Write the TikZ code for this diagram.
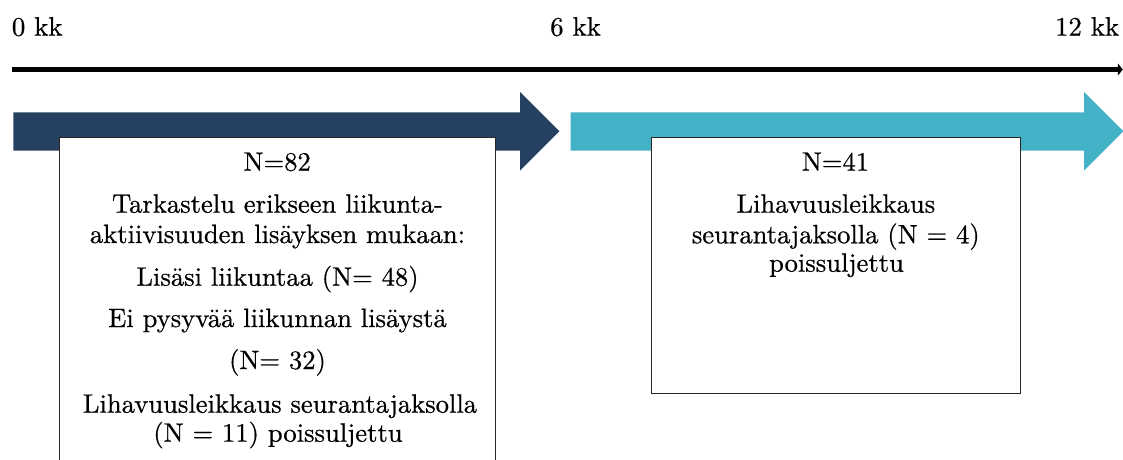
\documentclass[tikz,border=0pt]{standalone}
\usepackage{fontspec}
\setmainfont{lmroman10-regular.otf}[FakeBold=0.6]
\usetikzlibrary{arrows.meta}
\definecolor{navyarrow}{RGB}{38,64,97}
\definecolor{cyanarrow}{RGB}{67,177,198}
\begin{document}
\begin{tikzpicture}[x=1pt,y=-1pt,
  lbl/.style={inner sep=0pt, font=\fontsize{26.8}{30}\selectfont},
  txt/.style={inner sep=0pt, anchor=base, font=\fontsize{26.6}{30}\selectfont},
  panel/.style={draw=black!85, line width=1pt, fill=white, inner sep=0pt}
]
\useasboundingbox (0,0) rectangle (1123,459);
\clip (0,0) rectangle (1123,459);

% time labels
\node[lbl, anchor=base west] (l0) at (11.7,35.7) {0 kk};
\node[lbl, anchor=base west] (l6) at (550,35.7) {6 kk};
\node[lbl, anchor=base east] (l12) at (1119.3,35.7) {12 kk};

% timeline
\coordinate (t0) at (11.7,69.5);
\coordinate (t1) at (1122.8,69.5);
\draw[line width=5.6pt, -{Triangle[length=5pt,width=12pt]}] (t0) -- (t1);

% phase arrows
\fill[navyarrow] (13.3,112.3) -- (520,112.3) -- (520,92) -- (559.3,131.3)
  -- (520,170.6) -- (520,150.5) -- (13.3,150.5) -- cycle;
\fill[cyanarrow] (570.7,112.3) -- (1084,112.3) -- (1084,92) -- (1123.3,131.3)
  -- (1084,170.6) -- (1084,150.5) -- (570.7,150.5) -- cycle;

% panels
\node[panel, minimum width=435.7pt, minimum height=342.7pt] (box1) at (277.15,308.65) {};
\node[panel, minimum width=369pt, minimum height=255.7pt] (box2) at (836.2,265.15) {};

% panel 1 text
\node[txt] (a1) at (277.2,170.7) {N=82};
\node[txt] (a2) at (277.5,212.7) {Tarkastelu erikseen liikunta-};
\node[txt] (a3) at (277.5,243) {aktiivisuuden lisäyksen mukaan:};
\node[txt] (a4) at (277.5,285.7) {Lisäsi liikuntaa (N= 48)};
\node[txt] (a5) at (277.5,327) {Ei pysyvää liikunnan lisäystä};
\node[txt] (a6) at (277.5,369) {(N= 32)};
\node[txt] (a7) at (280,412.7) {Lihavuusleikkaus seurantajaksolla};
\node[txt] (a8) at (278,441.7) {(N = 11) poissuljettu};

% panel 2 text
\node[txt] (b1) at (835.5,170.7) {N=41};
\node[txt] (b2) at (835.8,212.7) {Lihavuusleikkaus};
\node[txt] (b3) at (835.8,243.3) {seurantajaksolla (N = 4)};
\node[txt] (b4) at (836.5,271.7) {poissuljettu};
\end{tikzpicture}
\end{document}
